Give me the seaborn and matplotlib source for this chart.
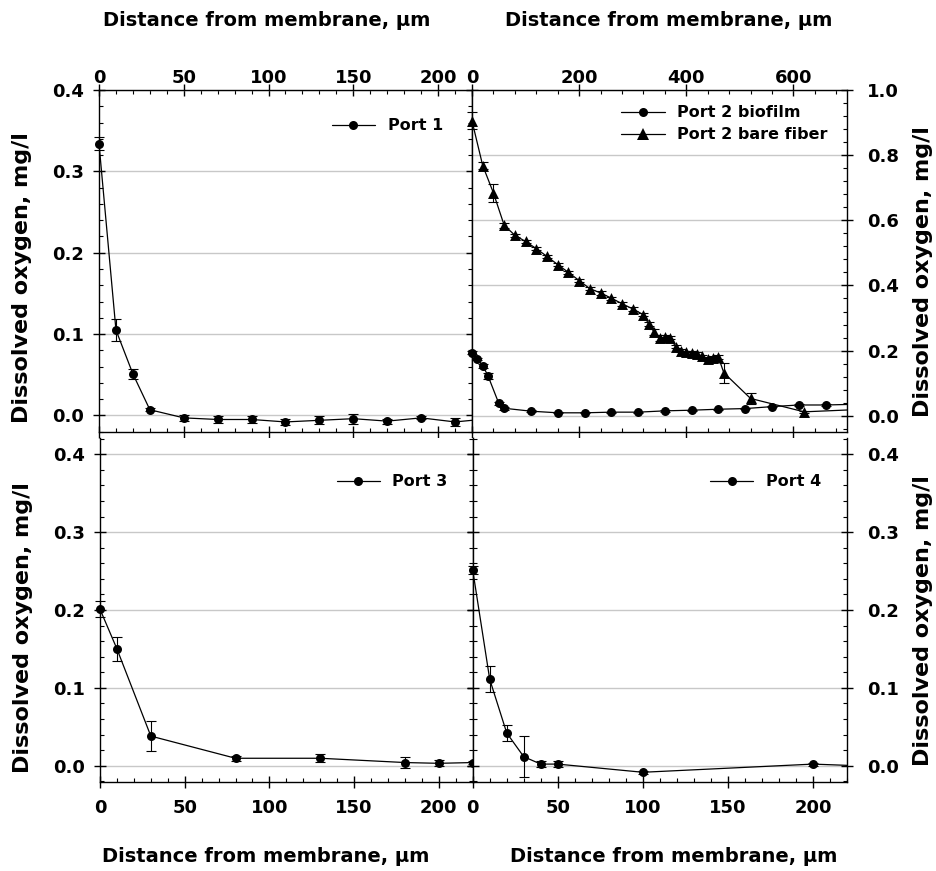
import numpy as np
import pandas as pd
import matplotlib
matplotlib.use("Agg")
import matplotlib.pyplot as plt
import seaborn as sns
from matplotlib.lines import Line2D
from matplotlib.ticker import MultipleLocator

# ---------------- data ----------------
port1_x = [0, 10, 20, 30, 50, 70, 90, 110, 130, 150, 170, 190, 210, 230]
port1_y = [0.334, 0.105, 0.051, 0.007, -0.003, -0.005, -0.005, -0.008, -0.006, -0.004, -0.007, -0.003, -0.008, -0.004]
port1_e = [0.008, 0.013, 0.006, 0.002, 0.004, 0.004, 0.004, 0.004, 0.005, 0.006, 0.003, 0.002, 0.005, 0.0]

bare_x = [0, 20, 40, 60, 80, 100, 120, 140, 160, 180, 200, 220, 240, 260, 280, 300, 320, 330,
          340, 350, 360, 370, 380, 390, 400, 410, 420, 430, 440, 450, 460, 470, 520, 620, 720]
bare_y = [0.905, 0.768, 0.684, 0.585, 0.554, 0.535, 0.513, 0.489, 0.464, 0.440, 0.415, 0.390, 0.377,
          0.361, 0.344, 0.328, 0.310, 0.281, 0.257, 0.238, 0.241, 0.240, 0.212, 0.200, 0.195, 0.194,
          0.190, 0.182, 0.174, 0.177, 0.180, 0.132, 0.053, 0.012, 0.019]
bare_e = [0.026, 0.010, 0.027, 0.008, 0.005, 0.005, 0.005, 0.005, 0.005, 0.005, 0.005, 0.005, 0.005,
          0.005, 0.006, 0.005, 0.005, 0.006, 0.010, 0.010, 0.006, 0.005, 0.005, 0.005, 0.005, 0.005,
          0.005, 0.005, 0.005, 0.005, 0.005, 0.030, 0.018, 0.004, 0.0]

bio_x = [0, 10, 20, 30, 50, 60, 110, 160, 210, 260, 310, 360, 410, 460, 510, 560, 610, 660, 710]
bio_y = [0.194, 0.174, 0.154, 0.122, 0.038, 0.023, 0.014, 0.009, 0.009, 0.011, 0.011, 0.015, 0.017,
         0.020, 0.022, 0.028, 0.033, 0.033, 0.035]
bio_e = [0.005, 0.004, 0.006, 0.010, 0.004, 0.004, 0.003, 0.002, 0.002, 0.002, 0.002, 0.002, 0.002,
         0.002, 0.002, 0.002, 0.002, 0.002, 0.0]

port3_x = [0, 10, 30, 80, 130, 180, 200, 220]
port3_y = [0.201, 0.150, 0.038, 0.0095, 0.0095, 0.004, 0.003, 0.004]
port3_e = [0.010, 0.015, 0.019, 0.003, 0.005, 0.007, 0.004, 0.002]

port4_x = [0, 10, 20, 30, 40, 50, 100, 200, 250]
port4_y = [0.2515, 0.111, 0.042, 0.0115, 0.002, 0.002, -0.0085, 0.002, -0.002]
port4_e = [0.005, 0.017, 0.010, 0.026, 0.004, 0.004, 0.002, 0.002, 0.0]

x_label = "Distance from membrane, \u00b5m"
y_label = "Dissolved oxygen, mg/l"

# ---------------- style ----------------
sns.set_theme(style="white")
plt.rcParams["font.family"] = ["DejaVu Sans"]
plt.rcParams.update({
    "font.weight": "bold",
    "axes.edgecolor": "black",
    "axes.labelcolor": "black",
    "text.color": "black",
    "xtick.color": "black",
    "ytick.color": "black",
    "axes.linewidth": 1.0,
})

W, H = 937, 871
fig = plt.figure(figsize=(W / 100, H / 100), dpi=100)


def rect(l, t, r, b):
    return [l / W, 1 - b / H, (r - l) / W, (b - t) / H]


ax1 = fig.add_axes(rect(99, 90, 472, 431.7))
ax2 = fig.add_axes(rect(472, 90, 847, 431.7))
ax3 = fig.add_axes(rect(100, 438, 472.7, 782))
ax4 = fig.add_axes(rect(472.7, 438, 847, 782))

TICK_FS = 13
LEG_FS = 11.5


def draw(ax, xs, ys, es, marker, size, xmax):
    df = pd.DataFrame({"x": xs, "y": ys, "e": es})
    sns.lineplot(data=df, x="x", y="y", ax=ax, color="black", lw=0.9,
                 estimator=None, sort=False, legend=False, zorder=3)
    vis = df[df["x"] <= xmax]
    eb = vis[vis["e"] > 0]
    ax.errorbar(eb["x"], eb["y"], yerr=eb["e"], fmt="none", ecolor="black",
                elinewidth=0.8, capsize=3.5, capthick=0.8, zorder=3, clip_on=False)
    sns.scatterplot(data=vis, x="x", y="y", ax=ax, color="black", marker=marker,
                    s=size, edgecolor="black", linewidth=0, legend=False,
                    zorder=4, clip_on=False)


def style(ax, xlim, ylim, xmaj, xmin, ymaj, ymin, top, right):
    ax.set_xlim(*xlim)
    ax.set_ylim(*ylim)
    ax.xaxis.set_major_locator(MultipleLocator(xmaj))
    ax.xaxis.set_minor_locator(MultipleLocator(xmin))
    ax.yaxis.set_major_locator(MultipleLocator(ymaj))
    ax.yaxis.set_minor_locator(MultipleLocator(ymin))
    ax.yaxis.grid(True, which="major", color="#c8c8c8", lw=1.0)
    ax.xaxis.grid(False)
    ax.set_axisbelow(True)
    ax.tick_params(which="major", direction="inout", length=8, width=1.0,
                   labelsize=TICK_FS)
    ax.tick_params(which="minor", direction="in", length=3, width=0.8)
    if top:
        ax.tick_params(axis="x", which="both", top=True, bottom=True,
                       labeltop=True, labelbottom=False)
        ax.tick_params(axis="x", which="major", pad=-1.5)
    else:
        ax.spines["top"].set_visible(False)
        ax.tick_params(axis="x", which="both", top=False, bottom=True,
                       labeltop=False, labelbottom=True)
        ax.tick_params(axis="x", which="major", pad=8.5)
    if right:
        ax.tick_params(axis="y", which="both", left=not top, right=True,
                       labelleft=False, labelright=True)
        ax.tick_params(axis="y", which="major", pad=10.5)
    else:
        ax.tick_params(axis="y", which="both", left=True, right=True,
                       labelleft=True, labelright=False)
        ax.tick_params(axis="y", which="major", pad=7)
    for lab in ax.get_xticklabels() + ax.get_yticklabels():
        lab.set_fontweight("bold")


# ---------------- panels ----------------
draw(ax1, port1_x, port1_y, port1_e, "o", 42, 220)
style(ax1, (0, 220), (-0.02, 0.4), 50, 10, 0.1, 0.02, top=True, right=False)

draw(ax2, bio_x, bio_y, bio_e, "o", 42, 700)
draw(ax2, bare_x, bare_y, bare_e, "^", 62, 700)
style(ax2, (0, 700), (-0.049, 1.0), 200, 40, 0.2, 0.04, top=True, right=True)

draw(ax3, port3_x, port3_y, port3_e, "o", 42, 220)
style(ax3, (0, 220), (-0.021, 0.421), 50, 10, 0.1, 0.02, top=False, right=False)

draw(ax4, port4_x, port4_y, port4_e, "o", 42, 220)
style(ax4, (0, 220), (-0.021, 0.421), 50, 10, 0.1, 0.02, top=False, right=True)

for ax in (ax1, ax2, ax3, ax4):
    ax.yaxis.set_major_formatter(matplotlib.ticker.FormatStrFormatter("%.1f"))
    ax.xaxis.set_major_formatter(matplotlib.ticker.FormatStrFormatter("%d"))

# axis labels
for ax, xc in ((ax1, 0.45), (ax2, 0.525)):
    ax.xaxis.set_label_position("top")
    ax.set_xlabel(x_label, fontsize=14, fontweight="bold")
    ax.xaxis.set_label_coords(xc, 1.186)
for ax, xc in ((ax3, 0.445), (ax4, 0.538)):
    ax.set_xlabel(x_label, fontsize=14, fontweight="bold")
    ax.xaxis.set_label_coords(xc, -0.19)
for ax in (ax1, ax3):
    ax.set_ylabel(y_label, fontsize=16, fontweight="bold")
    ax.yaxis.set_label_coords(-0.18, 0.45)
for ax in (ax2, ax4):
    ax.yaxis.set_label_position("right")
    ax.set_ylabel(y_label, fontsize=16, fontweight="bold")
    ax.yaxis.set_label_coords(1.176, 0.47)


# legends
def handle(marker, ms):
    return Line2D([], [], color="black", lw=0.9, marker=marker, ms=ms,
                  markeredgewidth=0)


leg_kw = dict(frameon=False, borderpad=0, borderaxespad=0, handlelength=2.7,
              handletextpad=0.8, labelspacing=0.45,
              prop={"weight": "bold", "size": LEG_FS})
ax1.legend([handle("o", 6.5)], ["Port 1"], loc="center right",
           bbox_to_anchor=(0.922, 0.8955), **leg_kw)
ax2.legend([handle("o", 6.5), handle("^", 8)], ["Port 2 biofilm", "Port 2 bare fiber"],
           loc="center right", bbox_to_anchor=(0.949, 0.901), **leg_kw)
ax3.legend([handle("o", 6.5)], ["Port 3"], loc="center right",
           bbox_to_anchor=(0.933, 0.8726), **leg_kw)
ax4.legend([handle("o", 6.5)], ["Port 4"], loc="center right",
           bbox_to_anchor=(0.931, 0.8726), **leg_kw)

fig.savefig("out.png", dpi=100)
